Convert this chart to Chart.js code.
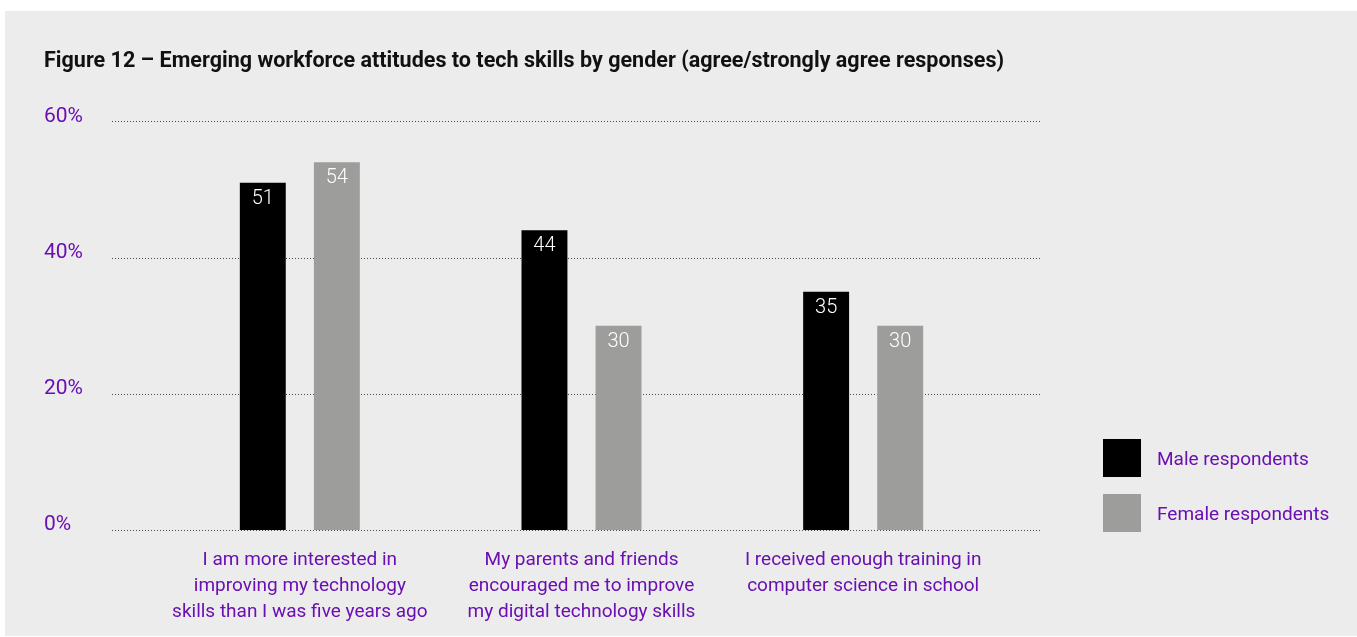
<!DOCTYPE html>
<html>
<head>
<meta charset="utf-8">
<script src="https://cdn.jsdelivr.net/npm/chart.js@4"></script>
<style>
  html, body { margin: 0; padding: 0; background: #ffffff; }
  #panel { position: absolute; left: 5px; top: 11px; width: 1352px; height: 625px; background: #ececec; }
  canvas { display: block; }
</style>
</head>
<body>
<div id="panel"><canvas id="c"></canvas></div>
<script>
const titleText = 'Figure 12 \u2013 Emerging workforce attitudes to tech skills by gender (agree/strongly agree responses)';
const categories = [
  ['I am more interested in', 'improving my technology', 'skills than I was five years ago'],
  ['My parents and friends', 'encouraged me to improve', 'my digital technology skills'],
  ['I received enough training in', 'computer science in school']
];
const seriesNames = ['Male respondents', 'Female respondents'];
const maleValues = [51, 44, 35];
const femaleValues = [54, 30, 30];
const yTicks = [0, 20, 40, 60];

const PURPLE = '#6a10b2';
const FONT = "'Roboto', sans-serif";

const gridPlugin = {
  id: 'dotGrid',
  beforeDatasetsDraw(chart) {
    const ctx = chart.ctx, y = chart.scales.y;
    ctx.save();
    ctx.strokeStyle = '#4a4a4a';
    ctx.lineWidth = 1;
    ctx.setLineDash([1, 2]);
    yTicks.forEach(v => {
      const py = Math.round(y.getPixelForValue(v)) + 0.5;
      ctx.beginPath();
      ctx.moveTo(107, py);
      ctx.lineTo(1035, py);
      ctx.stroke();
    });
    ctx.restore();
  }
};

const valueLabels = {
  id: 'valueLabels',
  afterDatasetsDraw(chart) {
    const ctx = chart.ctx;
    ctx.save();
    ctx.fillStyle = '#ffffff';
    ctx.font = "300 20px " + FONT;
    ctx.textAlign = 'center';
    ctx.textBaseline = 'middle';
    chart.data.datasets.forEach((ds, di) => {
      chart.getDatasetMeta(di).data.forEach((el, i) => {
        ctx.fillText(String(ds.data[i]), el.x, el.y + 16);
      });
    });
    ctx.restore();
  }
};

const customLegend = {
  id: 'customLegend',
  afterDraw(chart) {
    const ctx = chart.ctx;
    ctx.save();
    ctx.font = "19px " + FONT;
    ctx.textBaseline = 'middle';
    ctx.textAlign = 'left';
    chart.data.datasets.forEach((ds, i) => {
      const top = 428 + i * 55;
      ctx.fillStyle = ds.backgroundColor;
      ctx.fillRect(1098, top, 38, 38);
      ctx.fillStyle = PURPLE;
      ctx.fillText(ds.label, 1152, top + 21);
    });
    ctx.restore();
  }
};

new Chart(document.getElementById('c'), {
  type: 'bar',
  data: {
    labels: categories,
    datasets: [
      { label: seriesNames[0], data: maleValues, backgroundColor: '#000000', categoryPercentage: 0.526, barPercentage: 0.62 },
      { label: seriesNames[1], data: femaleValues, backgroundColor: '#9d9d9b', categoryPercentage: 0.526, barPercentage: 0.62 }
    ]
  },
  plugins: [gridPlugin, valueLabels, customLegend],
  options: {
    responsive: true,
    maintainAspectRatio: false,
    animation: false,
    layout: { padding: { left: 39, right: 353, top: 0, bottom: 0 } },
    plugins: {
      legend: { display: false },
      tooltip: { enabled: false },
      title: {
        display: true,
        text: titleText,
        align: 'start',
        color: '#111111',
        font: { family: FONT, size: 22, weight: 'bold' },
        padding: { top: 37, bottom: 47 }
      }
    },
    scales: {
      x: {
        grid: { display: false, drawTicks: false },
        border: { display: false },
        ticks: { color: PURPLE, font: { family: FONT, size: 19, lineHeight: 1.37 }, padding: 17, maxRotation: 0, autoSkip: false },
        afterFit(scale) { scale.height = 106; }
      },
      y: {
        min: 0, max: 60,
        grid: { display: false, drawTicks: false },
        border: { display: false },
        ticks: {
          stepSize: 20,
          color: PURPLE,
          crossAlign: 'far',
          labelOffset: -5,
          font: { family: FONT, size: 21 },
          callback: v => v + '%'
        },
        afterFit(scale) { scale.width = 115; }
      }
    }
  }
});
</script>
</body>
</html>
